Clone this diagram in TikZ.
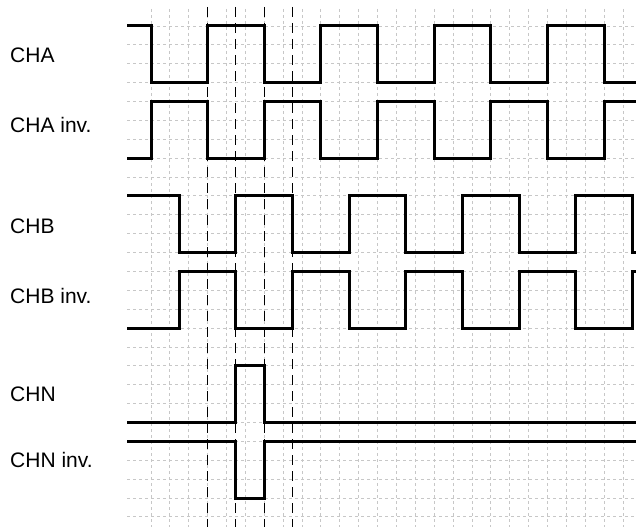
\documentclass[tikz,border=0pt]{standalone}
\usepackage{fontspec}
\setmainfont{Liberation Sans}
\begin{document}
\begin{tikzpicture}[x=1pt,y=-1pt,
  gridline/.style={draw=black!22,line width=0.9pt,dash pattern=on 3pt off 3pt},
  marker/.style={draw=black,line width=1pt,dash pattern=on 10pt off 6pt},
  sig/.style={draw=black,line width=3pt,line join=miter},
  lbl/.style={anchor=base west,inner sep=0pt,font=\fontsize{21}{25}\selectfont}]
\useasboundingbox (0,0) rectangle (636,527);
% grid
\foreach \k in {0,...,25} \draw[gridline] ({151+18.88*\k},9) -- ({151+18.88*\k},527);
\foreach \k in {0,...,26} \draw[gridline] (127,{26+18.88*\k}) -- (636,{26+18.88*\k});
% marker lines
\foreach \x in {207.64,235.96,264.28,292.6} \draw[marker] (\x,7) -- (\x,527);
% labels
\node[lbl] (la) at (10,63) {CHA};
\node[lbl] (lai) at (10,132) {CHA inv.};
\node[lbl] (lb) at (10,233) {CHB};
\node[lbl] (lbi) at (10,303) {CHB inv.};
\node[lbl] (ln) at (10,401) {CHN};
\node[lbl] (lni) at (10,467) {CHN inv.};
% CHA
\draw[sig] (127,26) -- (151,26) -- (151,82.64) -- (207.64,82.64) -- (207.64,26) -- (264.28,26) -- (264.28,82.64) -- (320.92,82.64) -- (320.92,26) -- (377.56,26) -- (377.56,82.64) -- (434.2,82.64) -- (434.2,26) -- (490.84,26) -- (490.84,82.64) -- (547.48,82.64) -- (547.48,26) -- (604.12,26) -- (604.12,82.64) -- (637,82.64);
% CHA inv
\draw[sig] (127,158.16) -- (151,158.16) -- (151,101.52) -- (207.64,101.52) -- (207.64,158.16) -- (264.28,158.16) -- (264.28,101.52) -- (320.92,101.52) -- (320.92,158.16) -- (377.56,158.16) -- (377.56,101.52) -- (434.2,101.52) -- (434.2,158.16) -- (490.84,158.16) -- (490.84,101.52) -- (547.48,101.52) -- (547.48,158.16) -- (604.12,158.16) -- (604.12,101.52) -- (637,101.52);
% CHB
\draw[sig] (127,195.92) -- (179.32,195.92) -- (179.32,252.56) -- (235.96,252.56) -- (235.96,195.92) -- (292.6,195.92) -- (292.6,252.56) -- (349.24,252.56) -- (349.24,195.92) -- (405.88,195.92) -- (405.88,252.56) -- (462.52,252.56) -- (462.52,195.92) -- (519.16,195.92) -- (519.16,252.56) -- (575.8,252.56) -- (575.8,195.92) -- (632.44,195.92) -- (632.44,252.56) -- (637,252.56);
% CHB inv
\draw[sig] (127,328.08) -- (179.32,328.08) -- (179.32,271.44) -- (235.96,271.44) -- (235.96,328.08) -- (292.6,328.08) -- (292.6,271.44) -- (349.24,271.44) -- (349.24,328.08) -- (405.88,328.08) -- (405.88,271.44) -- (462.52,271.44) -- (462.52,328.08) -- (519.16,328.08) -- (519.16,271.44) -- (575.8,271.44) -- (575.8,328.08) -- (632.44,328.08) -- (632.44,271.44) -- (637,271.44);
% CHN
\draw[sig] (127,422.48) -- (235.96,422.48) -- (235.96,365.84) -- (264.28,365.84) -- (264.28,422.48) -- (637,422.48);
% CHN inv
\draw[sig] (127,441.36) -- (235.96,441.36) -- (235.96,498.56) -- (264.28,498.56) -- (264.28,441.36) -- (637,441.36);
\end{tikzpicture}
\end{document}
